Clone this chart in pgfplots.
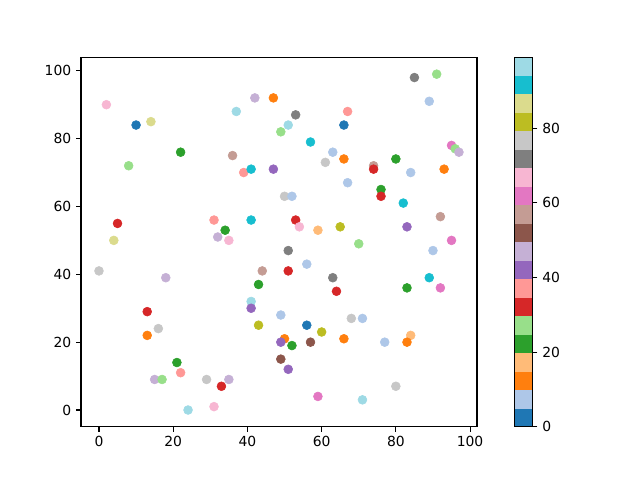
\documentclass[border=0pt]{standalone}
\usepackage{fontspec}
\setmainfont{DejaVu Sans}
\usepackage{pgfplots}
\usepackage{pgfplotstable}
\pgfplotsset{compat=1.18}

% x, y, c (c in 0..99, tab20 colour bins of width 4.95)
\pgfplotstableread{
x y c
2 90 67
10 84 2
14 85 87
22 76 22
8 72 27
37 88 97
42 92 47
47 92 12
36 75 57
39 70 37
41 71 92
47 71 42
49 82 27
51 84 97
53 87 72
57 79 92
67 88 37
66 84 2
63 76 7
61 73 77
66 74 12
67 67 7
74 72 57
74 71 32
80 74 22
84 70 7
93 71 12
85 98 72
91 99 27
89 91 7
95 78 62
96 77 27
97 76 47
5 55 32
4 50 87
0 41 77
18 39 47
31 56 37
34 53 22
32 51 47
35 50 67
41 56 92
50 63 77
52 63 7
51 47 72
44 41 57
51 41 32
43 37 22
41 32 97
41 30 42
13 29 32
76 65 22
76 63 32
82 61 92
92 57 57
53 56 32
54 54 67
59 53 17
65 54 82
83 54 42
70 49 27
95 50 62
90 47 7
56 43 7
63 39 72
64 35 32
89 39 92
83 36 22
92 36 62
16 24 77
13 22 12
21 14 22
22 11 37
15 9 47
17 9 27
29 9 77
35 9 47
33 7 32
31 1 67
24 0 97
43 25 82
49 28 7
50 21 12
49 20 42
49 15 52
51 12 42
56 25 2
60 23 82
52 19 22
57 20 52
66 21 12
68 27 77
71 27 7
77 20 7
84 22 17
83 20 12
80 7 77
59 4 62
71 3 97
}\pts

\begin{document}
\begin{tikzpicture}
\path[use as bounding box] (-58.3pt,-38.4pt) rectangle (402.5pt,307.3pt);
\begin{axis}[
    at={(0,0)}, anchor=south west,
    scale only axis,
    width=285.1pt, height=266pt,
    xmin=-4.85, xmax=101.85,
    ymin=-4.95, ymax=103.95,
    xtick={0,20,...,100}, ytick={0,20,...,100},
    xtick pos=left, ytick pos=left,
    tick align=outside,
    major tick length=3.5pt,
    axis line style={line width=0.8pt},
    every tick/.style={black, line width=0.8pt},
    tick label style={font=\fontsize{10}{12}\selectfont},
    /pgf/number format/assume math mode=true,
    colormap={tab20}{
        rgb255=(31,119,180) rgb255=(174,199,232) rgb255=(255,127,14) rgb255=(255,187,120)
        rgb255=(44,160,44) rgb255=(152,223,138) rgb255=(214,39,40) rgb255=(255,152,150)
        rgb255=(148,103,189) rgb255=(197,176,213) rgb255=(140,86,75) rgb255=(196,156,148)
        rgb255=(227,119,194) rgb255=(247,182,210) rgb255=(127,127,127) rgb255=(199,199,199)
        rgb255=(188,189,34) rgb255=(219,219,141) rgb255=(23,190,207) rgb255=(158,218,229)
    },
    colormap access=piecewise constant,
    point meta min=0, point meta max=99,
    colorbar,
    colorbar style={
        at={(parent axis.north east)}, anchor=north west,
        xshift=18.5pt,
        width=13pt,
        ytick={0,20,...,80},
        ytick pos=right,
        yticklabel pos=right,
        tick align=outside,
        major tick length=3.5pt,
        axis line style={line width=0.8pt},
        every tick/.style={black, line width=0.8pt},
        tick label style={font=\fontsize{10}{12}\selectfont},
        /pgf/number format/assume math mode=true,
    },
]
\addplot[scatter, only marks, mark=*, mark size=3.2pt,
    scatter src=explicit,
    scatter/use mapped color={draw=mapped color, fill=mapped color}]
    table[x=x, y=y, meta=c] {\pts};
\end{axis}
\end{tikzpicture}
\end{document}
